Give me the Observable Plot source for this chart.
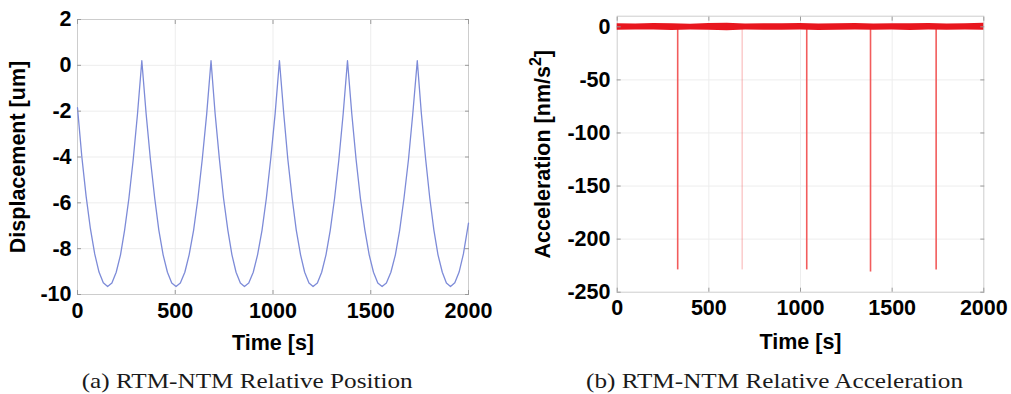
<!DOCTYPE html>
<html><head><meta charset="utf-8">
<script src="https://cdn.jsdelivr.net/npm/d3@7"></script>
<script src="https://cdn.jsdelivr.net/npm/@observablehq/plot@0.6"></script>
<style>
html,body{margin:0;padding:0;background:#fff;}
#wrap{position:relative;width:1011px;height:394px;overflow:hidden;background:#fff;}
#wrap > svg{position:absolute;top:0;}
</style></head><body><div id="wrap"></div>
<script>
// ---- (a) relative position ----
const timeS = [0,22,44,66,88,110,132,154,
  176,198,220,241,263,285,307,329,
  351,373,395,416,438,460,482,504,
  526,549,571,594,616,638,661,683,
  704,726,747,769,790,811,833,854,
  876,899,921,944,966,988,1011,1033,
  1055,1076,1098,1119,1141,1162,1184,1205,
  1227,1249,1271,1293,1315,1337,1359,1381,
  1403,1425,1447,1470,1492,1514,1536,1558,
  1580,1603,1626,1648,1670,1693,1715,1738,
  1759,1781,1802,1823,1844,1866,1887,1908,
  1930,1952,1974,2000];
const displacementUm = [-1.85,-3.98,-5.71,-7.13,-8.23,-9.02,-9.49,-9.65,
  -9.50,-9.03,-8.27,-7.19,-5.80,-4.11,-2.11,0.2,
  -2.11,-4.11,-5.80,-7.19,-8.27,-9.03,-9.50,-9.65,
  -9.50,-9.03,-8.27,-7.19,-5.80,-4.11,-2.11,0.2,
  -2.11,-4.11,-5.80,-7.19,-8.27,-9.03,-9.50,-9.65,
  -9.50,-9.03,-8.27,-7.19,-5.80,-4.11,-2.11,0.2,
  -2.11,-4.11,-5.80,-7.19,-8.27,-9.03,-9.50,-9.65,
  -9.50,-9.03,-8.27,-7.19,-5.80,-4.11,-2.11,0.2,
  -2.11,-4.11,-5.80,-7.19,-8.27,-9.03,-9.50,-9.65,
  -9.50,-9.03,-8.27,-7.19,-5.80,-4.11,-2.11,0.2,
  -2.11,-4.11,-5.80,-7.19,-8.27,-9.03,-9.50,-9.65,
  -9.49,-9.02,-8.23,-6.89];
const timeTicks = [0,500,1000,1500,2000];
const dispTicks = [-10,-8,-6,-4,-2,0,2];

// ---- (b) relative acceleration ----
const noiseT  = [0,100,200,300,400,500,600,700,800,900,1000,1100,1200,1300,1400,1500,1600,1700,1800,1900,2000];
const noiseHi = [3.0,2.6,3.1,2.8,2.5,3.2,3.4,2.6,2.8,3.0,3.2,2.7,2.9,3.1,2.6,3.0,2.8,3.2,2.7,3.0,3.3];
const noiseLo = [-3.3,-2.9,-3.1,-3.4,-2.9,-3.2,-3.6,-3.0,-3.2,-3.3,-3.1,-3.4,-3.2,-2.9,-3.3,-3.1,-3.4,-3.1,-3.2,-3.0,-3.3];
const spikeT   = [330,682,1034,1382,1740];
const spikeMin = [-229,-229,-229,-231,-229];
const accTicks = [-250,-200,-150,-100,-50,0];

const captionA = "(a) RTM-NTM Relative Position";
const captionB = "(b) RTM-NTM Relative Acceleration";

const fmt = d => String(d);
const common = {fontFamily:"'Liberation Sans', Arial, sans-serif", fontSize:"21.5px", fontWeight:"bold", color:"black", background:"transparent", overflow:"visible"};
const gridStyle = {stroke:"#ededed", strokeOpacity:1};
const tickStroke = "#9a9a9a";

const posData = timeS.map((t,i)=>({t, v: displacementUm[i]}));
const left = Plot.plot({
  width:505, height:394, marginLeft:77, marginRight:37, marginTop:19, marginBottom:100,
  style: common,
  x:{domain:[0,2000]}, y:{domain:[-10,2]},
  marks:[
    Plot.gridX(timeTicks.slice(1,-1), gridStyle),
    Plot.gridY(dispTicks.slice(1,-1), gridStyle),
    Plot.frame({stroke:"#cdcdcd"}),
    Plot.line(posData, {x:"t", y:"v", stroke:"#7d8bd8", strokeWidth:1.3}),
    Plot.axisX(timeTicks, {tickSize:-4, tickPadding:12, stroke:tickStroke, tickFormat:fmt, label:"Time [s]", labelAnchor:"center", labelOffset:55, labelArrow:"none"}),
    Plot.axisY(dispTicks, {anchor:"left", tickSize:-4, tickPadding:10, stroke:tickStroke, tickFormat:fmt, label:"Displacement [um]", labelAnchor:"center", labelOffset:68, labelArrow:"none"}),
    Plot.axisX(timeTicks, {anchor:"top", tickSize:-4, stroke:tickStroke, tickFormat:()=>"", label:null}),
    Plot.axisY(dispTicks, {anchor:"right", tickSize:-4, stroke:tickStroke, tickFormat:()=>"", label:null})
  ]
});
left.style.left = "0px";

const noiseData = noiseT.map((t,i)=>({t, lo: noiseLo[i], hi: noiseHi[i]}));
const spikeData = spikeT.map((t,i)=>({t, m: spikeMin[i]}));
const right = Plot.plot({
  width:506, height:394, marginLeft:111.7, marginRight:27.7, marginTop:15.7, marginBottom:102.3,
  style: common,
  x:{domain:[0,2000]}, y:{domain:[-250,10]},
  marks:[
    Plot.gridX(timeTicks.slice(1,-1), gridStyle),
    Plot.gridY(accTicks.slice(1,-1), gridStyle),
    Plot.frame({stroke:"#cdcdcd"}),
    Plot.ruleX(spikeData, {x:"t", y1:0, y2:"m", stroke:"#f25c5c", strokeWidth:1.6, strokeOpacity:(d,i)=> i===1 ? 0.3 : 1}),
    Plot.areaY(noiseData, {x:"t", y1:"lo", y2:"hi", fill:"#e8161e"}),
    Plot.axisX(timeTicks, {tickSize:-4, tickPadding:12, stroke:tickStroke, tickFormat:fmt, label:"Time [s]", labelAnchor:"center", labelOffset:57, labelArrow:"none"}),
    Plot.axisY(accTicks, {anchor:"left", tickSize:-4, tickPadding:10.7, stroke:tickStroke, tickFormat:fmt, label:"Acceleration [nm/s²]", labelAnchor:"center", labelOffset:82, labelArrow:"none"}),
    Plot.axisX(timeTicks, {anchor:"top", tickSize:-4, stroke:tickStroke, tickFormat:()=>"", label:null}),
    Plot.axisY(accTicks, {anchor:"right", tickSize:-4, stroke:tickStroke, tickFormat:()=>"", label:null})
  ]
});
right.style.left = "505px";

const wrap = document.getElementById("wrap");
wrap.appendChild(left);
wrap.appendChild(right);

// render the squared unit as a raised superscript, like the original
right.querySelectorAll("text").forEach(el => {
  if (el.childElementCount === 0 && el.textContent.indexOf("nm/s") >= 0) {
    const ns = "http://www.w3.org/2000/svg";
    const full = el.textContent;
    const head = full.slice(0, full.indexOf("nm/s") + 4);
    el.textContent = head;
    const sup = document.createElementNS(ns, "tspan");
    sup.setAttribute("dy", "-9");
    sup.setAttribute("font-size", "16px");
    sup.textContent = "2";
    const tail = document.createElementNS(ns, "tspan");
    tail.setAttribute("dy", "9");
    tail.textContent = "]";
    el.appendChild(sup);
    el.appendChild(tail);
  }
});

const cap = d3.create("svg").attr("width",1011).attr("height",394).style("left","0px").style("pointer-events","none");
cap.append("text").attr("x",81.7).attr("y",388).attr("textLength",331).attr("lengthAdjust","spacingAndGlyphs")
  .style("font-family","'Liberation Serif', 'Times New Roman', serif").style("font-size","21px").attr("fill","#1a1a1a").text(captionA);
cap.append("text").attr("x",586).attr("y",388).attr("textLength",377).attr("lengthAdjust","spacingAndGlyphs")
  .style("font-family","'Liberation Serif', 'Times New Roman', serif").style("font-size","21px").attr("fill","#1a1a1a").text(captionB);
wrap.appendChild(cap.node());
</script>
</body></html>
